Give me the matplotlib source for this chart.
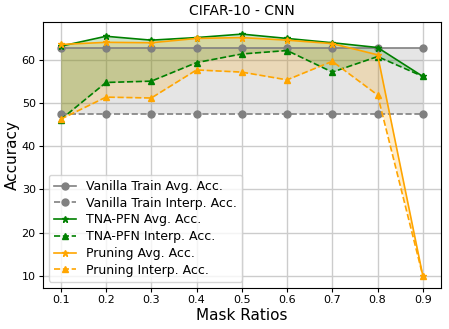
import matplotlib
matplotlib.use("Agg")
import matplotlib.pyplot as plt
import numpy as np

ratios = [0.1, 0.2, 0.3, 0.4, 0.5, 0.6, 0.7, 0.8, 0.9]
vanilla_avg = [62.8] * 9
vanilla_interp = [47.4] * 9
tna_avg = [63.2, 65.5, 64.6, 65.2, 66.0, 65.0, 64.0, 62.9, 56.2]
tna_interp = [46.2, 54.8, 55.1, 59.4, 61.4, 62.2, 57.2, 60.8, 56.2]
prun_avg = [63.6, 64.1, 64.0, 65.0, 65.2, 64.6, 63.8, 61.2, 10.0]
prun_interp = [46.3, 51.4, 51.2, 57.7, 57.2, 55.4, 59.7, 51.9, 10.0]

fig = plt.figure(figsize=(4.49, 3.29), dpi=100)
ax = fig.add_axes([0.095, 0.125, 0.887, 0.808])
ax.grid(True, color="#cccccc", linewidth=1)
ax.set_axisbelow(True)

lw, ms = 1.2, 5
ax.plot(ratios, vanilla_avg, "-o", color="grey", lw=lw, ms=ms, label="Vanilla Train Avg. Acc.")
ax.plot(ratios, vanilla_interp, "--o", color="grey", lw=lw, ms=ms, label="Vanilla Train Interp. Acc.")
ax.fill_between(ratios, vanilla_avg, vanilla_interp, color="grey", alpha=0.2, linewidth=0)

ax.plot(ratios, tna_avg, "-*", color="green", lw=lw, ms=ms, label="TNA-PFN Avg. Acc.")
ax.plot(ratios, tna_interp, "--^", color="green", lw=lw, ms=ms, label="TNA-PFN Interp. Acc.")
ax.fill_between(ratios, tna_avg, tna_interp, color="green", alpha=0.2, linewidth=0)

ax.plot(ratios, prun_avg, "-*", color="orange", lw=lw, ms=ms, label="Pruning Avg. Acc.")
ax.plot(ratios, prun_interp, "--^", color="orange", lw=lw, ms=ms, label="Pruning Interp. Acc.")
ax.fill_between(ratios, prun_avg, prun_interp, color="orange", alpha=0.2, linewidth=0)

ax.set_xticks(ratios)
ax.tick_params(labelsize=8, length=3, pad=2)
ax.set_xlabel("Mask Ratios", fontsize=11, labelpad=2)
ax.set_ylabel("Accuracy", fontsize=11, labelpad=1)
ax.set_title("CIFAR-10 - CNN", fontsize=10, pad=5)
ax.legend(loc="lower left", fontsize=9, labelspacing=0.3, handlelength=1.8)

plt.savefig("out.png")
